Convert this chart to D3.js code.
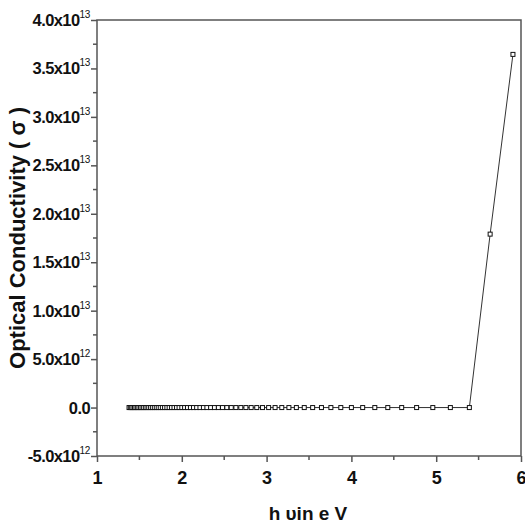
<!DOCTYPE html>
<html>
<head>
<meta charset="utf-8">
<script src="https://cdn.jsdelivr.net/npm/d3@7"></script>
<style>
  body { margin: 0; background: #fff; }
  svg { display: block; font-family: "Liberation Sans", Arial, sans-serif; }
</style>
</head>
<body>
<svg id="chart" width="525" height="526"></svg>
<script>
// photon energy (eV)
const energy = [
  1.378, 1.393, 1.409, 1.425, 1.442, 1.459, 1.476, 1.494, 1.512, 1.531,
  1.55, 1.57, 1.59, 1.61, 1.632, 1.653, 1.676, 1.699, 1.722, 1.746,
  1.771, 1.797, 1.824, 1.851, 1.879, 1.908, 1.938, 1.968, 2.0, 2.033,
  2.067, 2.102, 2.138, 2.175, 2.214, 2.255, 2.296, 2.34, 2.385, 2.431,
  2.48, 2.531, 2.583, 2.638, 2.696, 2.756, 2.818, 2.884, 2.952, 3.024,
  3.1, 3.179, 3.263, 3.351, 3.444, 3.543, 3.647, 3.758, 3.875, 4.0,
  4.133, 4.276, 4.429, 4.593, 4.769, 4.96, 5.167, 5.391, 5.636, 5.905
];
// optical conductivity (1/s)
const sigma = [
  0, 0, 0, 0, 0, 0, 0, 0, 0, 0,
  0, 0, 0, 0, 0, 0, 0, 0, 0, 0,
  0, 0, 0, 0, 0, 0, 0, 0, 0, 0,
  0, 0, 0, 0, 0, 0, 0, 0, 0, 0,
  0, 0, 0, 0, 0, 0, 0, 0, 0, 0,
  0, 0, 0, 0, 0, 0, 0, 0, 0, 0,
  0, 0, 0, 0, 0, 0, 0, 0, 1.79e13, 3.645e13
];

const xTicks = [1, 2, 3, 4, 5, 6];
const yTicks = [-5e12, 0, 5e12, 1e13, 1.5e13, 2e13, 2.5e13, 3e13, 3.5e13, 4e13];
const yTickLabels = [
  ["-5.0x10", "12"], ["0.0", ""], ["5.0x10", "12"], ["1.0x10", "13"], ["1.5x10", "13"],
  ["2.0x10", "13"], ["2.5x10", "13"], ["3.0x10", "13"], ["3.5x10", "13"], ["4.0x10", "13"]
];

const margin = { left: 97, right: 4, top: 20, bottom: 70 };
const width = 525, height = 526;

const svg = d3.select("#chart");

const x = d3.scaleLinear().domain([1, 6]).range([margin.left, width - margin.right]);
const y = d3.scaleLinear().domain([-5e12, 4e13]).range([height - margin.bottom, margin.top]);

const axisColor = "#555";

// frame
svg.append("rect")
  .attr("x", x(1)).attr("y", y(4e13))
  .attr("width", x(6) - x(1)).attr("height", y(-5e12) - y(4e13))
  .attr("fill", "none").attr("stroke", axisColor).attr("stroke-width", 1.5);

// x axis
const xAxis = svg.append("g").attr("transform", `translate(0,${y(-5e12)})`)
  .call(d3.axisBottom(x).tickValues(xTicks).tickSize(6).tickFormat(d3.format("d")));
xAxis.select(".domain").remove();
xAxis.selectAll(".tick line").attr("stroke", axisColor).attr("stroke-width", 1.5);
xAxis.selectAll(".tick text")
  .attr("font-size", 18).attr("font-weight", "bold").attr("fill", "#111").attr("dy", "1.05em");
xAxis.selectAll(".minor").data(d3.range(0, 5)).enter().append("line")
  .attr("x1", (d) => x(xTicks[d] + 0.5)).attr("x2", (d) => x(xTicks[d] + 0.5))
  .attr("y1", 0).attr("y2", 4)
  .attr("stroke", axisColor).attr("stroke-width", 1.5);

// y axis
const yAxis = svg.append("g").attr("transform", `translate(${x(1)},0)`)
  .call(d3.axisLeft(y).tickValues(yTicks).tickSize(6).tickFormat(""));
yAxis.select(".domain").remove();
yAxis.selectAll(".tick line").attr("stroke", axisColor).attr("stroke-width", 1.5);
yAxis.selectAll(".minor").data(yTicks.slice(0, -1)).enter().append("line")
  .attr("y1", (d) => y(d + 2.5e12)).attr("y2", (d) => y(d + 2.5e12))
  .attr("x1", 0).attr("x2", -4)
  .attr("stroke", axisColor).attr("stroke-width", 1.5);

const yLab = svg.append("g").selectAll("text").data(yTicks).enter().append("text")
  .attr("x", x(1) - 7)
  .attr("y", (d) => y(d) + 6)
  .attr("text-anchor", "end")
  .attr("font-size", 16.5).attr("font-weight", "bold").attr("fill", "#111")
  .attr("letter-spacing", -0.6);
yLab.append("tspan").text((d, i) => yTickLabels[i][0]);
yLab.append("tspan").attr("font-size", 10).attr("dy", -8).attr("letter-spacing", -0.3)
  .attr("font-weight", "normal")
  .text((d, i) => yTickLabels[i][1]);

// data
const pts = energy.map((e, i) => [e, sigma[i]]);
svg.append("path").datum(pts)
  .attr("fill", "none").attr("stroke", "#333").attr("stroke-width", 1)
  .attr("d", d3.line().x((d) => x(d[0])).y((d) => y(d[1])));

svg.append("g").selectAll("rect").data(pts).enter().append("rect")
  .attr("x", (d) => x(d[0]) - 2).attr("y", (d) => y(d[1]) - 2)
  .attr("width", 4).attr("height", 4)
  .attr("fill", "#fff").attr("stroke", "#111").attr("stroke-width", 1);

// titles
svg.append("text")
  .attr("x", (x(1) + x(6)) / 2 - 1).attr("y", 520)
  .attr("text-anchor", "middle")
  .attr("font-size", 19).attr("font-weight", "bold").attr("fill", "#111")
  .text("h υin e V");

svg.append("text")
  .attr("transform", `translate(25,${(y(-5e12) + y(4e13)) / 2})rotate(-90)`)
  .attr("text-anchor", "middle")
  .attr("font-size", 22).attr("font-weight", "bold").attr("fill", "#111")
  .text("Optical Conductivity ( σ )");
</script>
</body>
</html>
